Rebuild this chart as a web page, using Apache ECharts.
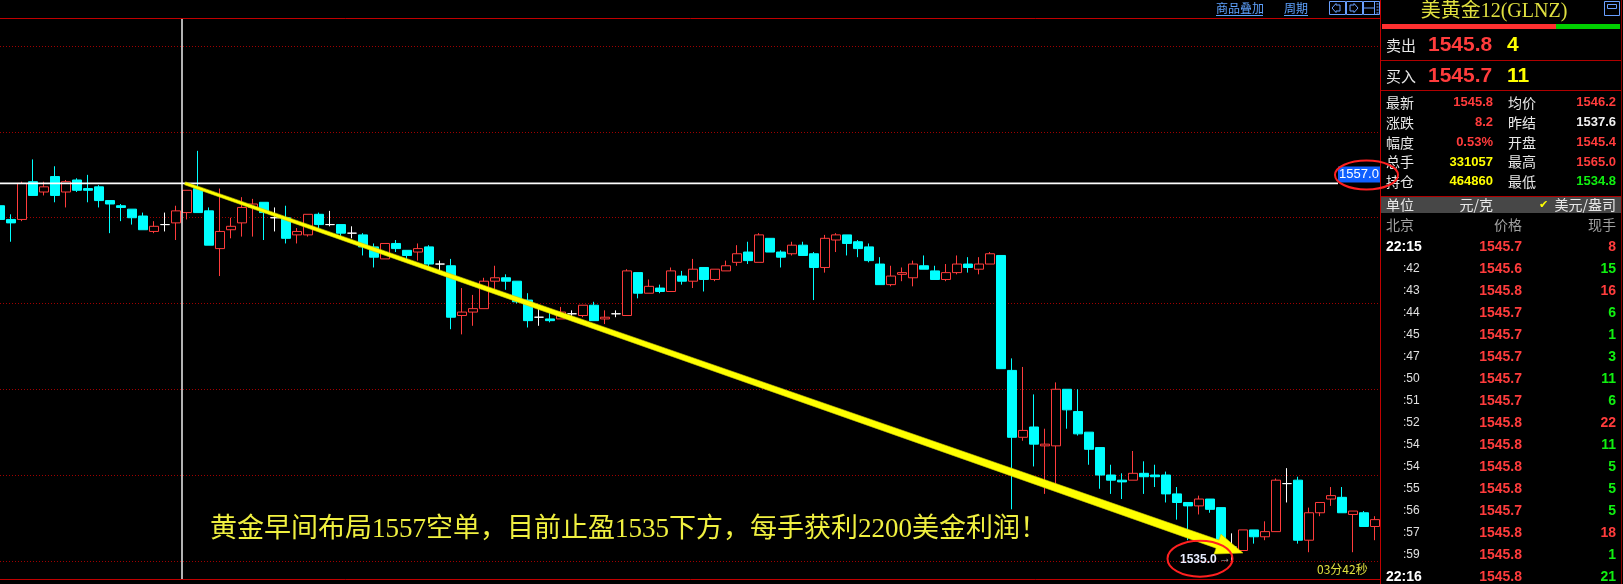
<!DOCTYPE html>
<html><head><meta charset="utf-8">
<script src="https://cdn.jsdelivr.net/npm/echarts@6/dist/echarts.min.js"></script>
<style>html,body{margin:0;padding:0;background:#000;overflow:hidden}#c{width:1623px;height:584px;}</style>
</head><body><div id="c"></div>
<script>
// ---- candle data (index 0 is the partially visible bar at the left edge) ----
const opens = [1555.7,1554.9,1554.9,1557.1,1556.5,1557.4,1556.5,1557.2,1556.7,1556.8,1556.0,1555.7,1555.5,1555.1,1554.2,1554.6,1554.7,1555.3,1556.7,1555.4,1553.2,1554.3,1554.7,1555.6,1555.9,1555.0,1555.0,1554.0,1554.0,1555.2,1554.6,1554.6,1554.1,1554.0,1553.3,1552.6,1553.5,1553.1,1553.0,1553.3,1552.3,1552.2,1549.3,1549.5,1549.7,1551.3,1551.5,1551.3,1550.2,1549.2,1549.1,1549.1,1549.4,1549.3,1549.9,1549.1,1549.4,1549.3,1551.8,1550.6,1550.9,1550.7,1551.6,1551.3,1552.1,1551.4,1551.9,1552.4,1553.0,1552.4,1553.8,1553.0,1552.9,1553.4,1552.9,1552.1,1553.7,1554.0,1553.6,1553.3,1552.3,1551.1,1551.7,1551.5,1552.2,1551.9,1551.4,1551.8,1552.3,1552.0,1552.3,1552.8,1546.1,1542.2,1542.8,1541.7,1541.7,1545.0,1543.7,1542.5,1541.6,1540.0,1539.7,1539.7,1540.1,1540.0,1540.0,1538.9,1538.4,1538.2,1538.6,1538.1,1535.8,1535.6,1536.8,1536.4,1536.7,1539.5,1539.7,1536.2,1537.8,1538.6,1538.7,1537.7,1537.8,1537.0];
const closes = [1554.9,1554.7,1557.0,1556.3,1556.8,1556.3,1557.1,1556.6,1556.6,1556.0,1555.8,1555.6,1555.0,1554.3,1554.5,1554.6,1555.4,1556.6,1555.3,1553.4,1554.2,1554.5,1555.6,1555.8,1555.3,1555.0,1553.8,1554.2,1555.2,1554.6,1554.6,1554.1,1554.1,1553.3,1552.7,1553.5,1553.2,1552.8,1553.2,1552.3,1552.3,1549.2,1549.5,1549.7,1551.3,1551.5,1551.3,1550.1,1549.0,1549.2,1549.0,1549.5,1549.4,1549.9,1549.0,1549.2,1549.4,1551.9,1550.6,1551.0,1550.7,1551.9,1551.3,1552.0,1551.4,1552.0,1552.2,1552.9,1552.5,1554.0,1553.0,1552.7,1553.4,1552.8,1552.1,1553.8,1554.0,1553.5,1553.2,1552.5,1551.1,1551.6,1551.8,1552.3,1552.0,1551.4,1551.8,1552.3,1552.1,1552.3,1552.9,1546.2,1542.2,1542.6,1541.8,1541.8,1545.0,1543.8,1542.4,1541.5,1540.0,1539.7,1539.6,1540.1,1539.9,1539.9,1538.9,1538.4,1538.2,1538.6,1538.0,1535.6,1535.8,1536.8,1536.4,1536.7,1539.7,1539.5,1536.2,1537.8,1538.4,1538.8,1537.8,1537.9,1537.0,1537.4];
const lows = [1554.8,1553.6,1554.8,1556.3,1556.3,1555.9,1555.6,1556.5,1555.9,1555.6,1554.1,1554.8,1554.6,1554.3,1554.1,1554.2,1553.7,1554.9,1555.3,1553.4,1551.6,1553.8,1553.9,1553.9,1553.7,1554.2,1553.5,1553.5,1553.9,1554.3,1554.5,1553.9,1553.8,1552.8,1552.1,1552.6,1553.0,1552.5,1552.5,1552.1,1551.7,1548.5,1548.2,1548.7,1549.7,1550.8,1550.8,1550.0,1548.6,1548.7,1548.9,1549.1,1549.2,1549.2,1549.0,1548.8,1549.2,1549.3,1550.3,1550.6,1550.6,1550.7,1551.1,1550.9,1550.7,1551.3,1551.9,1552.2,1552.3,1552.4,1553.0,1552.1,1552.8,1552.8,1550.2,1551.8,1553.0,1552.8,1552.7,1552.4,1551.1,1551.0,1551.3,1551.0,1552.0,1551.4,1551.3,1551.7,1551.8,1551.7,1552.3,1546.2,1538.0,1542.0,1540.5,1538.9,1539.4,1542.7,1542.3,1540.6,1539.2,1538.9,1538.6,1539.7,1538.9,1539.3,1538.4,1537.4,1536.2,1537.7,1537.8,1535.6,1535.0,1535.6,1536.0,1536.2,1536.7,1538.4,1536.0,1535.5,1537.6,1538.2,1537.8,1535.5,1537.0,1536.2];
const highs = [1556.0,1555.2,1557.1,1558.4,1557.1,1558.0,1557.2,1557.3,1557.5,1556.9,1556.0,1555.8,1555.5,1555.3,1554.8,1555.3,1555.7,1556.6,1558.9,1555.6,1556.7,1555.0,1556.2,1556.1,1555.9,1555.6,1555.7,1554.4,1555.2,1555.3,1555.4,1554.6,1554.5,1554.1,1553.5,1553.5,1553.7,1553.1,1553.5,1553.4,1552.5,1552.6,1550.9,1550.5,1551.5,1552.2,1551.7,1551.3,1550.6,1549.7,1549.7,1549.8,1549.6,1549.9,1550.1,1549.6,1549.6,1552.0,1551.8,1551.4,1551.1,1552.1,1551.9,1552.6,1552.1,1552.0,1552.5,1553.4,1553.6,1554.1,1553.8,1553.1,1553.6,1553.6,1553.0,1554.0,1554.1,1554.0,1553.7,1553.5,1552.7,1552.2,1552.1,1552.5,1552.8,1552.2,1552.3,1552.8,1552.7,1552.7,1553.0,1552.8,1546.8,1546.3,1544.7,1542.7,1545.4,1545.0,1545.0,1542.5,1541.6,1540.6,1540.1,1541.4,1540.8,1540.6,1540.2,1539.3,1538.4,1538.8,1538.6,1538.1,1536.6,1536.8,1536.8,1537.3,1539.8,1540.4,1539.9,1538.1,1538.4,1539.3,1539.3,1537.9,1537.9,1537.6];
const whiteDoji = [15,25,30,32,40,49,52,56,112,117];
const gridPrices = [1535,1540,1545,1550,1555,1560,1565];
const yRange = {min:1533.921, max:1566.644};
const crossPrice = 1557.0;
const lowMark = '1535.0';

// ---- quote panel ----
const panelTitle = '美黄金12(GLNZ)';
const quoteRows = [['卖出','1545.8','4'],['买入','1545.7','11']];
const statRows = [
  ['最新','1545.8','r','均价','1546.2','r'],
  ['涨跌','8.2','r','昨结','1537.6','w'],
  ['幅度','0.53%','r','开盘','1545.4','r'],
  ['总手','331057','y','最高','1565.0','r'],
  ['持仓','464860','y','最低','1534.8','g']];
const tickTimes = ['22:15',':42',':43',':44',':45',':47',':50',':51',':52',':54',':54',':55',':56',':57',':59','22:16'];
const tickPrices = ['1545.7','1545.6','1545.8','1545.7','1545.7','1545.7','1545.7','1545.7','1545.8','1545.8','1545.8','1545.8','1545.7','1545.8','1545.8','1545.8'];
const tickQty = ['8','15','16','6','1','3','11','6','22','11','5','5','5','18','1','21'];
const tickQtyUp = [1,0,1,0,0,0,0,0,1,0,0,0,0,1,0,0];
const noteText = '黄金早间布局1557空单，目前止盈1535下方，每手获利2200美金利润！';
const timerText = '03分42秒';

const COL = {r:'#ff3c3c', g:'#10f010', y:'#ffff00', w:'#f0f0f0'};
const CJK = '"Noto Sans CJK SC"';
const NUM = '"Liberation Sans", Arial, sans-serif';

const chart = echarts.init(document.getElementById('c'));
const cats = opens.map((_, i) => String(i)).concat(['pad']);
const data = opens.map((o, i) => {
  const it = {value: [o, closes[i], lows[i], highs[i]]};
  if (whiteDoji.includes(i)) it.itemStyle = {color:'#fff', color0:'#fff', borderColor:'#fff', borderColor0:'#fff', borderColorDoji:'#fff'};
  return it;
}).concat(['-']);
chart.setOption({
  backgroundColor: '#000',
  animation: false,
  grid: {left: 0, right: 237, top: 18, bottom: 4.7},
  xAxis: {type: 'category', data: cats, show: false, boundaryGap: false},
  yAxis: {type: 'value', min: yRange.min, max: yRange.max, show: false, splitLine: {show: false}},
  series: [{type: 'candlestick', data, barWidth: 9, clip: false,
    itemStyle: {color: '#000', color0: '#00ffff', borderColor: '#ff3c3c', borderColor0: '#00ffff', borderColorDoji: '#fff', borderWidth: 1},
    markLine: {silent: true, symbol: ['none', 'none'], label: {show: false}, z: 1,
      lineStyle: {color: '#a00000', type: [1, 2], width: 1},
      data: gridPrices.map(v => ({yAxis: v}))}}]
});

function T(text, x, y, fill, font, align, z) {
  return {type:'text', silent:true, z: z || 100, style:{text, x, y, fill, font,
    align: align || 'left', verticalAlign: 'middle', textAlign: align || 'left', textVerticalAlign: 'middle'}};
}
function L(x1, y1, x2, y2, stroke, w, z) {
  return {type:'line', silent:true, z: z || 90, shape:{x1, y1, x2, y2}, style:{stroke, lineWidth: w || 1}};
}
function R(x, y, w, h, fill, stroke, z) {
  return {type:'rect', silent:true, z: z || 80, shape:{x, y, width: w, height: h}, style:{fill: fill || 'none', stroke: stroke || null, lineWidth: 1}};
}

const g = [];
const yCross = chart.convertToPixel({yAxisIndex: 0}, crossPrice);
// panel background (covers grid overflow on the right)
g.push(R(1381, 0, 242, 584, '#000', null, 60));
// frame lines
g.push(L(0, 18.5, 1381, 18.5, '#c00000', 1));
g.push(L(0, 579.5, 1381, 579.5, '#c00000', 1));
g.push(L(1380.5, 0, 1380.5, 584, '#c00000', 1));
g.push(L(1621.5, 0, 1621.5, 584, '#900000', 1));
// toolbar
const linkCol = '#5ea2ff';
g.push(T('商品叠加', 1216, 8, linkCol, '12px ' + CJK));
g.push(L(1216, 15.5, 1263, 15.5, linkCol, 1));
g.push(T('周期', 1284, 8, linkCol, '12px ' + CJK));
g.push(L(1284, 15.5, 1308, 15.5, linkCol, 1));
[1329.5, 1346.5, 1363.5].forEach(x => g.push(R(x, 1.5, 16, 13, null, '#6aa0ff', 95)));
g.push({type:'polyline', silent:true, z:96, shape:{points:[[1340,5],[1336,5],[1336,3.5],[1332,8],[1336,12.5],[1336,11],[1340,11],[1340,5]]}, style:{stroke:'#6aa0ff', fill:'none', lineWidth:1}});
g.push({type:'polyline', silent:true, z:96, shape:{points:[[1350,5],[1354,5],[1354,3.5],[1358,8],[1354,12.5],[1354,11],[1350,11],[1350,5]]}, style:{stroke:'#6aa0ff', fill:'none', lineWidth:1}});
g.push(L(1363.5, 8, 1374, 8, '#6aa0ff', 1, 96));
g.push(L(1374.5, 1.5, 1374.5, 14.5, '#6aa0ff', 1, 96));
[4, 7, 10, 13].forEach(y => g.push(L(1376.5, y, 1378.5, y, '#6aa0ff', 1, 96)));

// crosshair
g.push(L(0, yCross, 1338, yCross, '#ffffff', 1.6, 110));
g.push(L(182, 19, 182, 579, '#ffffff', 1.4, 110));
g.push(R(1338, yCross - 17, 42, 16, '#1060ff', null, 111));
g.push(T(crossPrice.toFixed(1), 1359, yCross - 9, '#ffffff', '13px ' + NUM, 'center', 112));

// yellow arrow (tapered)
const S = [185, 183.3], Tp = [1243, 553];
const dx = Tp[0] - S[0], dy = Tp[1] - S[1], len = Math.hypot(dx, dy);
const u = [dx / len, dy / len], n = [-u[1], u[0]];
const N = [Tp[0] - u[0] * 27, Tp[1] - u[1] * 27];
const P = (b, k, s) => [b[0] + n[0] * k * s, b[1] + n[1] * k * s];
g.push({type:'polygon', silent:true, z:120, shape:{points:[P(S,1.5,1), P(N,4.3,1), P(N,10.5,1), Tp, P(N,10.5,-1), P(N,4.3,-1), P(S,1.5,-1)]},
  style:{fill:'#ffff00', stroke:'#c8c800', lineWidth:0.6}});

// text notes
g.push(T(noteText, 210, 530, '#f0f040', '27px "Liberation Serif", ' + CJK, 'left', 130));
g.push(T(lowMark, 1180, 560, '#e8eeff', 'bold 12px ' + NUM, 'left', 130));
g.push(T('→', 1219, 559, '#b0b0b0', '12px ' + NUM, 'left', 130));
g.push(T(timerText, 1317, 569, '#e0e040', '12px ' + CJK, 'left', 130));
// red ellipses
g.push({type:'ellipse', silent:true, z:140, shape:{cx:1200, cy:558.7, rx:32.5, ry:18}, style:{fill:'none', stroke:'#ff2020', lineWidth:2}});
g.push({type:'ellipse', silent:true, z:140, shape:{cx:1366.5, cy:175, rx:31.5, ry:14.5}, style:{fill:'none', stroke:'#ff2020', lineWidth:2}});

// ---- right panel ----
g.push(T(panelTitle, 1494, 12, '#e0e040', '20px "Liberation Serif", ' + CJK, 'center'));
g.push(R(1604.5, 1.5, 15, 14, null, '#6aa0ff', 95));
g.push(R(1607.5, 4.5, 9, 4, null, '#6aa0ff', 95));
g.push(R(1382, 24, 174, 5, '#ff3030'));
g.push(R(1556, 24, 64, 5, '#00d000'));
g.push(L(1381, 60.5, 1621, 60.5, '#b00000', 1));
g.push(L(1381, 90.5, 1621, 90.5, '#b00000', 1));
quoteRows.forEach((r, i) => {
  const y = i === 0 ? 45 : 76;
  g.push(T(r[0], 1386, y, '#e8e8e8', '15px ' + CJK));
  g.push(T(r[1], 1428, y, COL.r, 'bold 21px ' + NUM));
  g.push(T(r[2], 1507, y, COL.y, 'bold 21px ' + NUM));
});
statRows.forEach((r, i) => {
  const y = 102.7 + i * 19.8;
  g.push(T(r[0], 1386, y, '#e8e8e8', '14px ' + CJK));
  g.push(T(r[1], 1493, y, COL[r[2]], 'bold 13px ' + NUM, 'right'));
  g.push(T(r[3], 1508, y, '#e8e8e8', '14px ' + CJK));
  g.push(T(r[4], 1616, y, COL[r[5]], 'bold 13px ' + NUM, 'right'));
});
g.push(L(1381, 196.5, 1621, 196.5, '#b00000', 1));
g.push(R(1381, 197, 240, 16, '#474747'));
g.push(T('单位', 1386, 205, '#e8e8e8', '14px ' + CJK));
g.push(T('元/克', 1493, 205, '#e8e8e8', '14px ' + CJK, 'right'));
g.push(T('✔', 1539, 205, '#ffff00', '11px "DejaVu Sans"'));
g.push(T('美元/盎司', 1616, 205, '#e8e8e8', '14px ' + CJK, 'right'));
g.push(T('北京', 1386, 225, '#a0a0a0', '14px ' + CJK));
g.push(T('价格', 1522, 225, '#a0a0a0', '14px ' + CJK, 'right'));
g.push(T('现手', 1616, 225, '#a0a0a0', '14px ' + CJK, 'right'));
tickTimes.forEach((t, i) => {
  const y = 246.7 + i * 22;
  const full = t.length > 3;
  g.push(T(t, full ? 1386 : 1403, y, full ? '#ffffff' : '#e0e0e0', full ? 'bold 14px ' + NUM : '12px ' + NUM));
  g.push(T(tickPrices[i], 1522, y, COL.r, 'bold 14px ' + NUM, 'right'));
  g.push(T(tickQty[i], 1616, y, tickQtyUp[i] ? COL.r : COL.g, 'bold 14px ' + NUM, 'right'));
});

chart.setOption({graphic: {elements: g}});
</script></body></html>
